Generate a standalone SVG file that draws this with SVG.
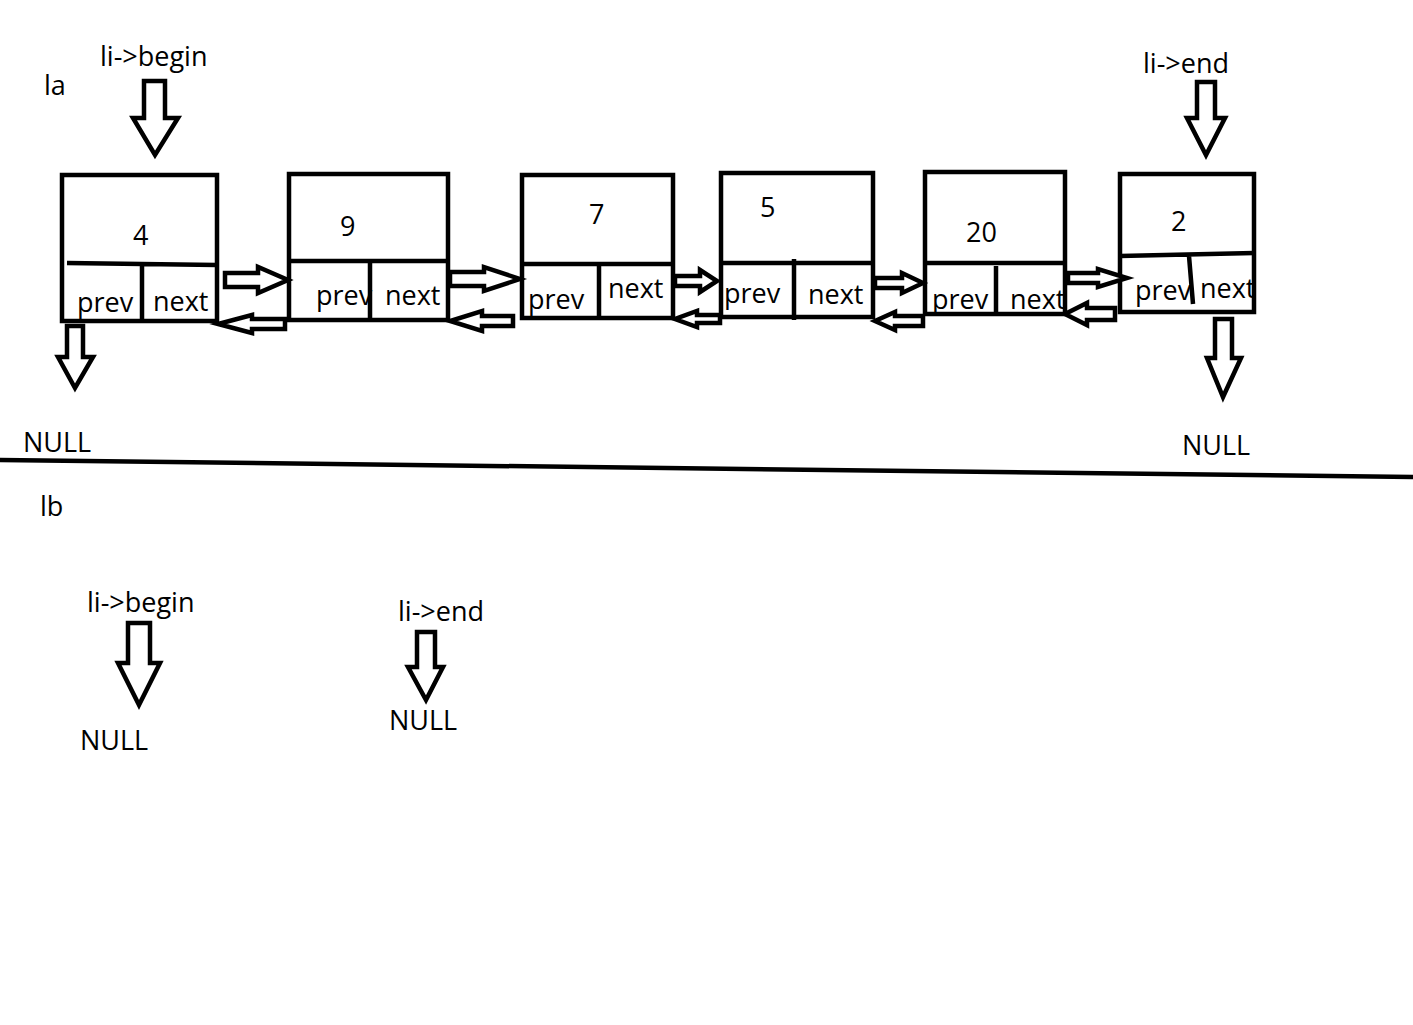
<svg xmlns="http://www.w3.org/2000/svg" width="1413" height="1025" viewBox="0 0 1413 1025">
<style>
.t{font-family:"Open Sans","Noto Sans","Liberation Sans",sans-serif;font-size:27px;fill:#000}
.box{fill:#fff;stroke:#000;stroke-width:4.5}
.ln{fill:none;stroke:#000;stroke-width:4.5}
.arr{fill:#fff;stroke:#000;stroke-width:4.5;stroke-linejoin:miter}
</style>
<rect width="1413" height="1025" fill="#fff"/>
<g id="labels">
<text class="t" x="44" y="95">la</text>
<text class="t" x="100" y="66">li-&gt;begin</text>
<text class="t" x="1143" y="73">li-&gt;end</text>
<text class="t" x="23" y="452">NULL</text>
<text class="t" x="1182" y="455">NULL</text>
<text class="t" x="40" y="516">lb</text>
<text class="t" x="87" y="612">li-&gt;begin</text>
<text class="t" x="398" y="621">li-&gt;end</text>
<text class="t" x="80" y="750">NULL</text>
<text class="t" x="389" y="730">NULL</text>
</g>
<g id="separator">
<path class="ln" d="M0 460 L1413 477"/>
</g>
<g id="node-4">
<rect class="box" x="62" y="175" width="155" height="146"/>
<path class="ln" d="M67 263 L217 265 M142 262 L142 320"/>
<text class="t" x="133" y="245">4</text>
<text class="t" x="77" y="312">prev</text>
<text class="t" x="153" y="311">next</text>
</g>
<g id="node-9">
<rect class="box" x="289" y="174" width="159" height="146"/>
<path class="ln" d="M289 261 L448 261 M370 261 L370 320"/>
<text class="t" x="340" y="236">9</text>
<text class="t" x="316" y="305">prev</text>
<text class="t" x="385" y="305">next</text>
</g>
<g id="node-7">
<rect class="box" x="522" y="175" width="151" height="143"/>
<path class="ln" d="M522 264 L673 264 M599 264 L599 318"/>
<text class="t" x="589" y="224">7</text>
<text class="t" x="528" y="309">prev</text>
<text class="t" x="608" y="298">next</text>
</g>
<g id="node-5">
<rect class="box" x="721" y="173" width="152" height="144"/>
<path class="ln" d="M721 263 L873 263 M794 259 L794 320"/>
<text class="t" x="760" y="217">5</text>
<text class="t" x="724" y="303">prev</text>
<text class="t" x="808" y="304">next</text>
</g>
<g id="node-20">
<rect class="box" x="925" y="172" width="140" height="142"/>
<path class="ln" d="M925 263 L1065 263 M996 266 L996 314"/>
<text class="t" x="966" y="242">20</text>
<text class="t" x="932" y="309">prev</text>
<text class="t" x="1010" y="309">next</text>
</g>
<g id="node-2">
<rect class="box" x="1120" y="174" width="134" height="138"/>
<path class="ln" d="M1120 256 L1254 253 M1189 256 L1193 304"/>
<text class="t" x="1171" y="231">2</text>
<text class="t" x="1135" y="300">prev</text>
<text class="t" x="1200" y="298">next</text>
</g>
<g id="connectors">
<polygon class="arr" points="144,81 165,81 165,118 178,118 155,155 133,118 144,118"/>
<polygon class="arr" points="1197,82 1215,82 1215,118 1225,118 1206,155 1187,118 1197,118"/>
<polygon class="arr" points="67,326 83,326 83,357 93,357 75,388 58,357 67,357"/>
<polygon class="arr" points="1215,319 1232,319 1232,358 1241,358 1223,397 1207,358 1215,358"/>
<polygon class="arr" points="128,623 150,623 150,663 160,663 139,705 118,663 128,663"/>
<polygon class="arr" points="417,632 435,632 435,667 443,667 426,700 408,667 417,667"/>
<polygon class="arr" points="225,273 258,273 258,267 288,280 258,293 258,287 225,287"/>
<polygon class="arr" points="450,272 484,272 484,267 520,279 484,291 484,286 450,286"/>
<polygon class="arr" points="675,276 700,276 700,270 717,281 700,292 700,286 675,286"/>
<polygon class="arr" points="875,278 902,278 902,273 923,283 902,293 902,288 875,288"/>
<polygon class="arr" points="1068,273 1098,273 1098,269 1127,278 1098,287 1098,283 1068,283"/>
<polygon class="arr" points="285,319 252,319 252,315 218,324 252,333 252,329 285,329"/>
<polygon class="arr" points="513,316 482,316 482,311 450,321 482,331 482,326 513,326"/>
<polygon class="arr" points="720,315 697,315 697,311 675,319 697,327 697,323 720,323"/>
<polygon class="arr" points="923,316 895,316 895,312 875,321 895,330 895,326 923,326"/>
<polygon class="arr" points="1115,308 1087,308 1087,303 1065,314 1087,325 1087,320 1115,320"/>
</g>
</svg>
